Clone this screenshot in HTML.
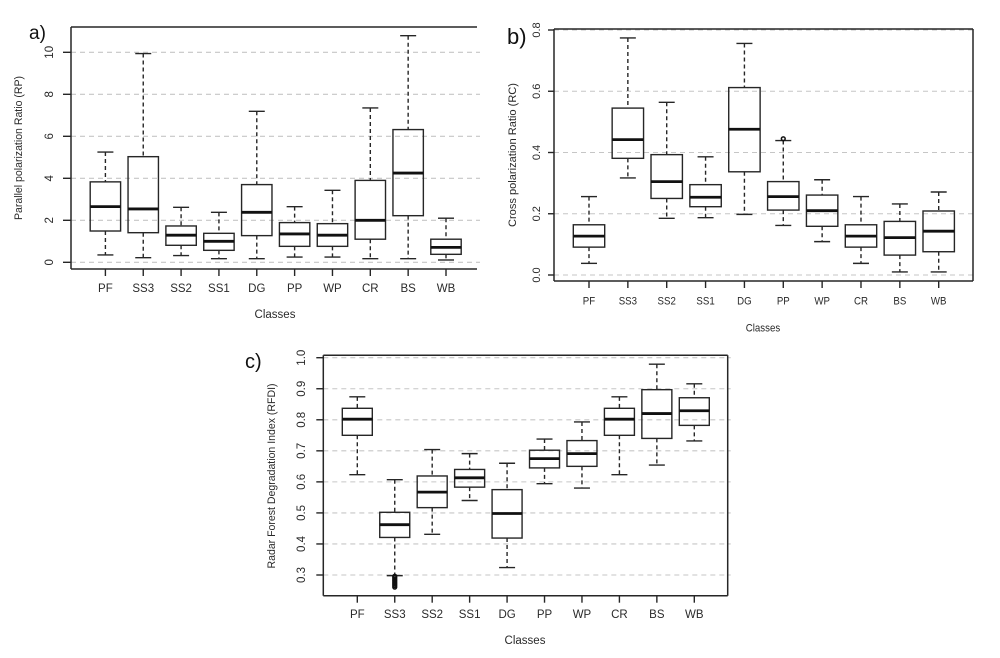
<!DOCTYPE html>
<html lang="en">
<head>
<meta charset="utf-8">
<title>Polarization ratio boxplots</title>
<style>
  html, body { margin: 0; padding: 0; background: #fff; }
  body { width: 1000px; height: 658px; overflow: hidden; }
  svg { display: block; filter: blur(0.35px); }
  text { font-family: "Liberation Sans", sans-serif; fill: #2a2a2a; }
  .panel-letter { font-family: "Liberation Sans", sans-serif; fill: #111; }
</style>
</head>
<body>
<svg id="figure" width="1000" height="658" viewBox="0 0 1000 658" xmlns="http://www.w3.org/2000/svg"></svg>
<script>
const categories = ['PF', 'SS3', 'SS2', 'SS1', 'DG', 'PP', 'WP', 'CR', 'BS', 'WB'];

const rpTicks = [0, 2, 4, 6, 8, 10];
const rpTickLabels = ['0', '2', '4', '6', '8', '10'];
const rpLow = [0.35, 0.22, 0.32, 0.17, 0.17, 0.25, 0.25, 0.17, 0.17, 0.11];
const rpQ1 = [1.49, 1.41, 0.81, 0.57, 1.27, 0.76, 0.76, 1.10, 2.22, 0.38];
const rpMedian = [2.65, 2.54, 1.29, 1.00, 2.38, 1.35, 1.29, 2.00, 4.25, 0.71];
const rpQ3 = [3.83, 5.03, 1.73, 1.38, 3.70, 1.89, 1.84, 3.90, 6.32, 1.10];
const rpHigh = [5.25, 9.94, 2.62, 2.38, 7.19, 2.65, 3.43, 7.35, 10.79, 2.10];
const rpOutliers = [];

const rcTicks = [0, 0.2, 0.4, 0.6, 0.8];
const rcTickLabels = ['0.0', '0.2', '0.4', '0.6', '0.8'];
const rcLow = [0.038, 0.317, 0.185, 0.187, 0.198, 0.162, 0.109, 0.038, 0.010, 0.010];
const rcQ1 = [0.091, 0.381, 0.250, 0.223, 0.337, 0.212, 0.159, 0.091, 0.065, 0.076];
const rcMedian = [0.127, 0.442, 0.305, 0.254, 0.476, 0.256, 0.210, 0.127, 0.122, 0.143];
const rcQ3 = [0.164, 0.545, 0.393, 0.295, 0.612, 0.305, 0.261, 0.164, 0.175, 0.209];
const rcHigh = [0.256, 0.774, 0.564, 0.386, 0.756, 0.439, 0.311, 0.256, 0.232, 0.271];
const rcOutliers = [['PP', 0.445]];

const rfdiTicks = [0.3, 0.4, 0.5, 0.6, 0.7, 0.8, 0.9, 1.0];
const rfdiTickLabels = ['0.3', '0.4', '0.5', '0.6', '0.7', '0.8', '0.9', '1.0'];
const rfdiLow = [0.623, 0.298, 0.431, 0.540, 0.324, 0.594, 0.580, 0.623, 0.654, 0.732];
const rfdiQ1 = [0.750, 0.421, 0.517, 0.583, 0.419, 0.645, 0.650, 0.750, 0.740, 0.782];
const rfdiMedian = [0.802, 0.462, 0.567, 0.613, 0.498, 0.675, 0.691, 0.802, 0.820, 0.829];
const rfdiQ3 = [0.837, 0.502, 0.619, 0.640, 0.575, 0.702, 0.733, 0.837, 0.897, 0.871];
const rfdiHigh = [0.874, 0.607, 0.704, 0.691, 0.660, 0.738, 0.793, 0.874, 0.979, 0.916];
const rfdiOutliers = [['SS3', 0.296], ['SS3', 0.291], ['SS3', 0.286], ['SS3', 0.281], ['SS3', 0.276], ['SS3', 0.271], ['SS3', 0.266], ['SS3', 0.261]];

const NS = 'http://www.w3.org/2000/svg';
const figure = document.getElementById('figure');
const INK = '#262626';

function make(parent, tag, attrs) {
  const el = document.createElementNS(NS, tag);
  for (const k in attrs) el.setAttribute(k, attrs[k]);
  parent.appendChild(el);
  return el;
}

function line(parent, x1, y1, x2, y2, width, color, dash) {
  const el = make(parent, 'line', { x1, y1, x2, y2, stroke: color || INK, 'stroke-width': width });
  if (dash) el.setAttribute('stroke-dasharray', dash);
  return el;
}

function drawPanel(cfg) {
  const xScale = i => cfg.x0 + (cfg.x9 - cfg.x0) * i / (categories.length - 1);
  const yScale = v => cfg.yA + (v - cfg.vA) * (cfg.yB - cfg.yA) / (cfg.vB - cfg.vA);

  const g = make(figure, 'g', {});
  
  

  // Grid
  cfg.ticks.forEach((t, i) => {
    const gl = line(g, cfg.left, yScale(t), cfg.right + 3, yScale(t), 1.1, '#c6c6c6', '5 4');
    
    
  });

  // Frame
  const frameTop = line(g, cfg.left, cfg.top, cfg.right, cfg.top, 1.5);
  
  
  const frameBottom = line(g, cfg.left, cfg.bottom, cfg.right, cfg.bottom, 1.5);
  
  
  const frameLeft = line(g, cfg.left, cfg.top, cfg.left, cfg.bottom, 1.5);
  
  
  if (cfg.rightBorder) {
    const frameRight = line(g, cfg.right, cfg.top, cfg.right, cfg.bottom, 1.5);
    
    
  }

  // Y ticks and labels
  cfg.ticks.forEach((t, i) => {
    const y = yScale(t);
    const tick = line(g, cfg.left - cfg.yTickLen, y, cfg.left, y, 1.4);
    
    
    const label = make(g, 'text', {
      transform: 'translate(' + cfg.yLabelX + ',' + y + ') rotate(-90)',
      'text-anchor': 'middle', 'dominant-baseline': 'central', 'font-size': cfg.fontSize
    });
    label.textContent = cfg.tickLabels[i];
    
    
  });

  // Boxes
  categories.forEach((name, i) => {
    const x = xScale(i);
    const box = make(g, 'g', {});
    
    

    line(box, x, yScale(cfg.high[i]), x, yScale(cfg.q3[i]), 1.4, INK, '4 3');
    line(box, x, yScale(cfg.q1[i]), x, yScale(cfg.low[i]), 1.4, INK, '4 3');
    line(box, x - cfg.capHalf, yScale(cfg.high[i]), x + cfg.capHalf, yScale(cfg.high[i]), 1.4);
    line(box, x - cfg.capHalf, yScale(cfg.low[i]), x + cfg.capHalf, yScale(cfg.low[i]), 1.4);
    make(box, 'rect', {
      x: x - cfg.boxHalf, y: yScale(cfg.q3[i]),
      width: cfg.boxHalf * 2, height: yScale(cfg.q1[i]) - yScale(cfg.q3[i]),
      fill: 'none', stroke: INK, 'stroke-width': 1.4
    });
    line(box, x - cfg.boxHalf, yScale(cfg.median[i]), x + cfg.boxHalf, yScale(cfg.median[i]), 2.8, '#111');

    const tick = line(g, x, cfg.bottom, x, cfg.bottom + cfg.xTickLen, 1.4);
    
    

    const label = make(g, 'text', {
      x: x, y: cfg.xLabelY, 'text-anchor': 'middle', 'dominant-baseline': 'central', 'font-size': cfg.fontSize
    });
    label.textContent = name;
    if (cfg.condense) {
      label.setAttribute('transform', 'translate(' + x + ' 0) scale(' + cfg.condense + ' 1) translate(' + (-x) + ' 0)');
    }
    
    
  });

  // Outliers
  cfg.outliers.forEach(o => {
    const c = make(g, 'circle', {
      cx: xScale(categories.indexOf(o[0])), cy: yScale(o[1]), r: 1.9,
      fill: 'none', stroke: '#111', 'stroke-width': 1.5
    });
    
    
  });

  // Titles
  const xTitle = make(g, 'text', {
    x: cfg.xTitleX, y: cfg.xTitleY, 'text-anchor': 'middle', 'dominant-baseline': 'central', 'font-size': cfg.fontSize
  });
  xTitle.textContent = 'Classes';
  if (cfg.condense) {
    xTitle.setAttribute('transform', 'translate(' + cfg.xTitleX + ' 0) scale(' + cfg.condense + ' 1) translate(' + (-cfg.xTitleX) + ' 0)');
  }
  
  

  const yTitle = make(g, 'text', {
    transform: 'translate(' + cfg.yTitleX + ',' + cfg.yTitleY + ') rotate(-90)',
    'text-anchor': 'middle', 'dominant-baseline': 'central', 'font-size': cfg.yTitleSize,
    textLength: cfg.yTitleLen, lengthAdjust: 'spacingAndGlyphs'
  });
  yTitle.textContent = cfg.yTitle;
  
  

  const letter = make(g, 'text', {
    x: cfg.letterX, y: cfg.letterY, 'font-size': cfg.letterSize, 'class': 'panel-letter'
  });
  letter.textContent = cfg.letter;
  
  
}

drawPanel({
  key: 'rp', letter: 'a)', letterX: 29, letterY: 39, letterSize: 19,
  left: 71, right: 477, top: 27, bottom: 269, rightBorder: false,
  x0: 105.4, x9: 446, yA: 262.3, vA: 0, yB: 52.3, vB: 10,
  ticks: rpTicks, tickLabels: rpTickLabels,
  low: rpLow, q1: rpQ1, median: rpMedian, q3: rpQ3, high: rpHigh, outliers: rpOutliers,
  boxHalf: 15.2, capHalf: 8, yTickLen: 8, xTickLen: 7,
  fontSize: 11.5, yLabelX: 50, xLabelY: 289,
  xTitleX: 275, xTitleY: 315,
  yTitle: 'Parallel polarization Ratio (RP)', yTitleX: 19, yTitleY: 148, yTitleSize: 11, yTitleLen: 144
});

drawPanel({
  key: 'rc', letter: 'b)', letterX: 507, letterY: 44, letterSize: 22,
  left: 554, right: 973, top: 29, bottom: 281, rightBorder: true,
  x0: 589, x9: 938.7, yA: 275, vA: 0, yB: 30, vB: 0.8,
  ticks: rcTicks, tickLabels: rcTickLabels,
  low: rcLow, q1: rcQ1, median: rcMedian, q3: rcQ3, high: rcHigh, outliers: rcOutliers,
  boxHalf: 15.7, capHalf: 8, yTickLen: 6, xTickLen: 7,
  fontSize: 11, condense: 0.88, yLabelX: 537, xLabelY: 302,
  xTitleX: 763, xTitleY: 329,
  yTitle: 'Cross polarization Ratio (RC)', yTitleX: 513, yTitleY: 155, yTitleSize: 11, yTitleLen: 144
});

drawPanel({
  key: 'rfdi', letter: 'c)', letterX: 245, letterY: 368, letterSize: 20,
  left: 323.3, right: 727.7, top: 355.3, bottom: 595.7, rightBorder: true,
  x0: 357.3, x9: 694.3, yA: 575, vA: 0.3, yB: 357.7, vB: 1.0,
  ticks: rfdiTicks, tickLabels: rfdiTickLabels,
  low: rfdiLow, q1: rfdiQ1, median: rfdiMedian, q3: rfdiQ3, high: rfdiHigh, outliers: rfdiOutliers,
  boxHalf: 15, capHalf: 8, yTickLen: 7, xTickLen: 7,
  fontSize: 11.5, yLabelX: 302, xLabelY: 615,
  xTitleX: 525, xTitleY: 641,
  yTitle: 'Radar Forest Degradation Index (RFDI)', yTitleX: 272, yTitleY: 476, yTitleSize: 11, yTitleLen: 185
});
</script>
</body>
</html>
